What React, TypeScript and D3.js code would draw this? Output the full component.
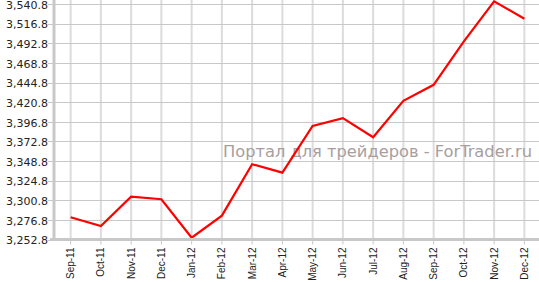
import React from "react";
import * as d3 from "d3";

const categories = ["Sep-11","Oct-11","Nov-11","Dec-11","Jan-12","Feb-12","Mar-12","Apr-12","May-12","Jun-12","Jul-12","Aug-12","Sep-12","Oct-12","Nov-12","Dec-12"];
const values = [3280.0,3269.3,3305.2,3302.0,3255.0,3282.0,3344.9,3334.6,3391.8,3401.2,3377.9,3422.4,3442.0,3495.0,3544.0,3522.8];
const yTicks = [3252.8,3276.8,3300.8,3324.8,3348.8,3372.8,3396.8,3420.8,3444.8,3468.8,3492.8,3516.8,3540.8];
const watermark = "Портал для трейдеров - ForTrader.ru";

export default function App() {
  const W = 539, H = 282;
  const left = 54, right = 539, top = 4, bottom = 239.5;
  const x = d3.scaleBand<string>().domain(categories).range([left + 1.5, right + 0.5]).padding(0);
  const cx = (c: string) => (x(c) as number) + x.bandwidth() / 2;
  const y = d3.scaleLinear().domain([3252.8, 3540.8]).range([bottom, top]);
  const fmt = d3.format(",.1f");
  const line = d3.line<number>().x((_, i) => cx(categories[i])).y(d => y(d));
  return (
    <svg width={W} height={H} style={{ position: "absolute", left: 0, top: 0 }}>
      <rect width={W} height={H} fill="#fff" />
      {categories.map(c => (
        <line key={"vg" + c} x1={cx(c)} x2={cx(c)} y1={0} y2={bottom} stroke="#dcdcdc" strokeWidth={2} />
      ))}
      {yTicks.map(t => (
        <line key={"hg" + t} x1={left} x2={W} y1={Math.round(y(t)) + 0.5} y2={Math.round(y(t)) + 0.5} stroke="#c8c8c8" strokeWidth={1} />
      ))}
      <text x={223} y={157} fontFamily="DejaVu Sans" fontSize={16} fill="#a89e9e" textLength={309} lengthAdjust="spacingAndGlyphs">{watermark}</text>
      <path d={line(values) as string} fill="none" stroke="#ff0000" strokeWidth={2.2} strokeLinejoin="miter" />
      <line x1={left} x2={left} y1={0} y2={bottom + 1.5} stroke="#c8c8c8" strokeWidth={3} />
      <line x1={left - 4} x2={W} y1={bottom} y2={bottom} stroke="#c8c8c8" strokeWidth={3} />
      {yTicks.map(t => (
        <g key={"yt" + t}>
          <line x1={left - 6} x2={left} y1={Math.round(y(t)) + 0.5} y2={Math.round(y(t)) + 0.5} stroke="#c8c8c8" strokeWidth={1} />
          <text x={48} y={y(t) + 1} dy="0.35em" textAnchor="end" fontFamily="DejaVu Sans" fontSize={11} fill="#222">{fmt(t)}</text>
        </g>
      ))}
      {categories.map(c => (
        <g key={"xt" + c}>
          <line x1={cx(c)} x2={cx(c)} y1={bottom} y2={bottom + 5} stroke="#c8c8c8" strokeWidth={1} />
          <text transform={`translate(${cx(c) + 3.5},${bottom + 8}) rotate(-90)`} textAnchor="end" fontFamily="Liberation Sans, Arial" fontSize={10} fill="#222">{c}</text>
        </g>
      ))}
    </svg>
  );
}
